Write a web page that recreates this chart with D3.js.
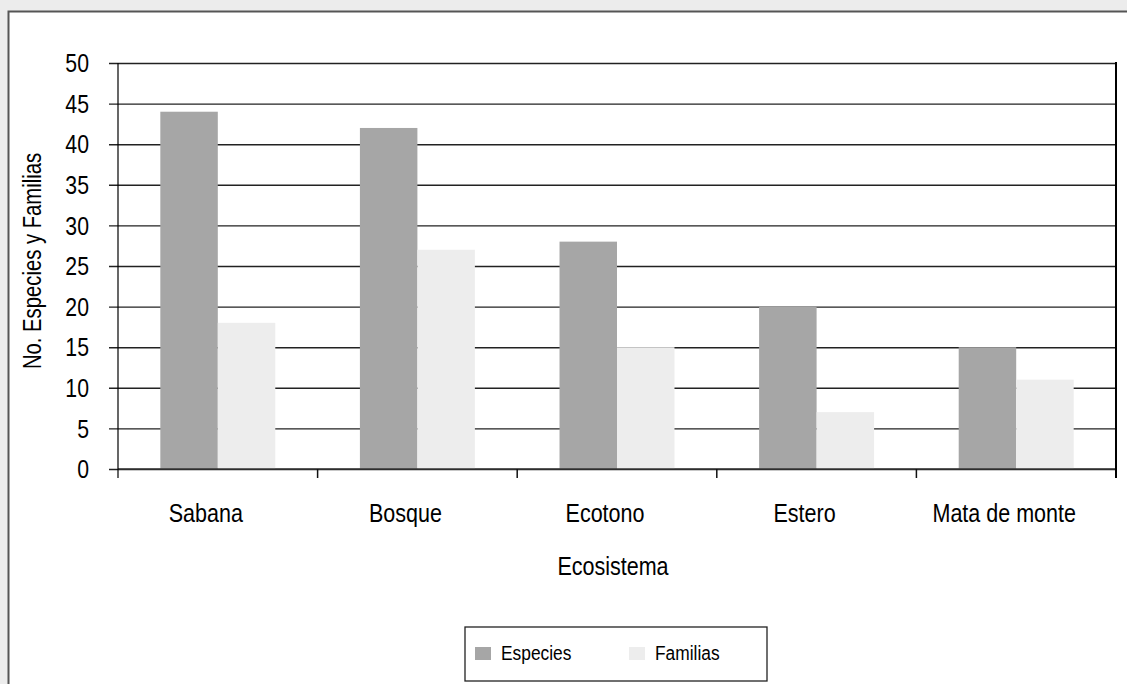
<!DOCTYPE html>
<html>
<head>
<meta charset="utf-8">
<script src="https://cdn.jsdelivr.net/npm/d3@7"></script>
<style>
  html, body { margin: 0; padding: 0; background: #ececec; }
  svg { display: block; }
  text { font-family: "Liberation Sans Narrow", "Arial Narrow", "Liberation Sans", Arial, sans-serif; fill: #000; }
</style>
</head>
<body>
<svg id="chart" width="1127" height="684"></svg>
<script>
// Species and family counts per ecosystem
const categories = ["Sabana", "Bosque", "Ecotono", "Estero", "Mata de monte"];
const especies = [44, 42, 28, 20, 15];
const familias = [18, 27, 15, 7, 11];
const seriesNames = ["Especies", "Familias"];
const seriesColors = ["#a6a6a6", "#ededed"];
const yTicks = [0, 5, 10, 15, 20, 25, 30, 35, 40, 45, 50];

const svg = d3.select("#chart");
const W = 1127, H = 684;

// squeeze text horizontally to a narrow face
function condense(sel, factor) {
  sel.each(function () {
    const w = this.getComputedTextLength();
    d3.select(this).attr("textLength", w * factor).attr("lengthAdjust", "spacingAndGlyphs");
  });
}

// white chart panel
svg.append("rect")
  .attr("x", 8.5).attr("y", 11.5)
  .attr("width", W + 10).attr("height", H + 10)
  .attr("fill", "#fff").attr("stroke", "#555").attr("stroke-width", 2);

const plot = { left: 118, right: 1116, top: 63, bottom: 469 };

const x0 = d3.scaleBand().domain(categories).range([plot.left, plot.right]).paddingInner(0).paddingOuter(0);
const groupPad = 0.212;
const x1 = d3.scaleBand().domain(seriesNames)
  .range([x0.bandwidth() * groupPad, x0.bandwidth() * (1 - groupPad)]);
const y = d3.scaleLinear().domain([0, 50]).range([plot.bottom, plot.top]);

// horizontal gridlines with left tick marks
const yAxis = d3.axisLeft(y).tickValues(yTicks).tickSize(-(plot.right - plot.left)).tickPadding(20).tickFormat(d3.format("d"));
const gy = svg.append("g").attr("transform", `translate(${plot.left},0)`).call(yAxis);
gy.select(".domain").remove();
gy.selectAll(".tick line").attr("x1", -9).attr("stroke", "#222").attr("stroke-width", 1.4);
gy.selectAll(".tick text").attr("font-size", 25).attr("x", -29).attr("dy", "0.35em")
  .call(condense, 0.85);

// bars
const table = categories.map((c, i) => ({ cat: c, values: [especies[i], familias[i]] }));
const groups = svg.append("g").selectAll("g").data(table).join("g")
  .attr("transform", d => `translate(${x0(d.cat)},0)`);
groups.selectAll("rect").data(d => d.values.map((v, j) => ({ key: seriesNames[j], v, j })))
  .join("rect")
  .attr("x", d => x1(d.key))
  .attr("width", x1.bandwidth())
  .attr("y", d => y(d.v))
  .attr("height", d => y(0) - y(d.v))
  .attr("fill", d => seriesColors[d.j]);

// baseline and category separators
svg.append("line").attr("x1", plot.left).attr("x2", plot.right).attr("y1", y(0)).attr("y2", y(0))
  .attr("stroke", "#333").attr("stroke-width", 1.6);
const boundaries = categories.map(c => x0(c)).concat([plot.right]);
svg.append("g").selectAll("line").data(boundaries.slice(1, -1)).join("line")
  .attr("x1", d => d).attr("x2", d => d).attr("y1", y(0)).attr("y2", y(0) + 9)
  .attr("stroke", "#111").attr("stroke-width", 1.5);
// left axis and right frame
svg.append("line").attr("x1", plot.left).attr("x2", plot.left).attr("y1", plot.top).attr("y2", y(0) + 9)
  .attr("stroke", "#000").attr("stroke-width", 1.2);
svg.append("line").attr("x1", plot.right).attr("x2", plot.right).attr("y1", plot.top - 1).attr("y2", y(0) + 9)
  .attr("stroke", "#000").attr("stroke-width", 2);

// category labels
svg.append("g").selectAll("text").data(categories).join("text")
  .attr("x", d => x0(d) + x0.bandwidth() / 2 - 12)
  .attr("y", 522)
  .attr("text-anchor", "middle")
  .attr("font-size", 25)
  .text(d => d)
  .call(condense, 0.86);

// axis titles
svg.append("text").attr("x", (plot.left + plot.right) / 2 - 4).attr("y", 575)
  .attr("text-anchor", "middle").attr("font-size", 25).text("Ecosistema")
  .call(condense, 0.86);
svg.append("text").attr("transform", "translate(41,261) rotate(-90)")
  .attr("text-anchor", "middle").attr("font-size", 25).text("No. Especies y Familias")
  .call(condense, 0.81);

// legend
const lg = svg.append("g");
lg.append("rect").attr("x", 465).attr("y", 627).attr("width", 302).attr("height", 54)
  .attr("fill", "#fff").attr("stroke", "#222").attr("stroke-width", 1.3);
const legendX = [475, 629];
seriesNames.forEach((s, i) => {
  lg.append("rect").attr("x", legendX[i]).attr("y", 647).attr("width", 16).attr("height", 13)
    .attr("fill", seriesColors[i]);
  lg.append("text").attr("x", legendX[i] + 26).attr("y", 660).attr("font-size", 19.5).text(s)
    .call(condense, 0.89);
});
</script>
</body>
</html>
